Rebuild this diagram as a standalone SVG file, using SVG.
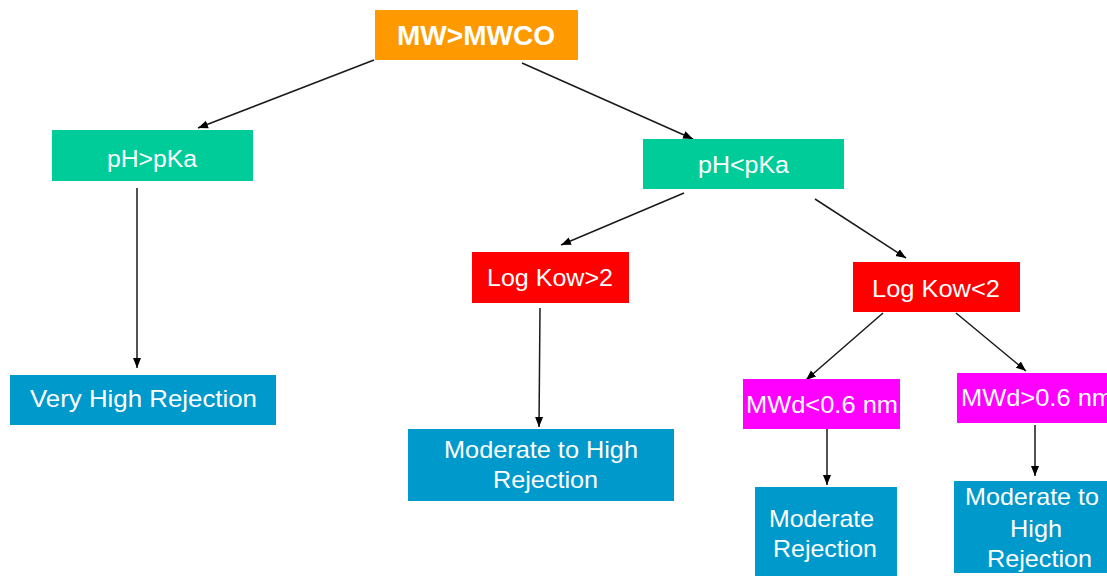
<svg xmlns="http://www.w3.org/2000/svg" width="1107" height="576" viewBox="0 0 1107 576">
<style>
text{font-family:"Liberation Sans",Arial,sans-serif;font-size:24px;fill:#fff;lengthAdjust:spacingAndGlyphs}
.orange{fill:#FF9900}.green{fill:#00CC99}.red{fill:#FF0000}.mag{fill:#FF00FF}.blue{fill:#0099CC}
.c line{stroke:#1a1a1a;stroke-width:1.5;marker-end:url(#ah)}
</style>
<defs>
<marker id="ah" viewBox="0 0 10 10" refX="10" refY="5" markerWidth="10" markerHeight="10" markerUnits="userSpaceOnUse" orient="auto">
<path d="M0,1 L10,5 L0,9 Z" fill="#000"/>
</marker>
</defs>
<rect width="1107" height="576" fill="#fff"/>
<g class="c" id="connectors">
<line x1="374" y1="60" x2="198" y2="128"/>
<line x1="522" y1="63" x2="693" y2="139"/>
<line x1="137" y1="188" x2="137" y2="368"/>
<line x1="684" y1="193" x2="561" y2="245"/>
<line x1="815" y1="199" x2="906" y2="258"/>
<line x1="540" y1="308" x2="539" y2="427"/>
<line x1="883" y1="313" x2="806" y2="380"/>
<line x1="956" y1="313" x2="1026" y2="371"/>
<line x1="827" y1="429" x2="827" y2="485"/>
<line x1="1035" y1="425" x2="1035" y2="476"/>
</g>
<g id="n-mwco"><rect class="orange" x="375" y="10" width="203" height="50"/><text x="397" y="45" style="font-weight:bold;font-size:28px" textLength="158" lengthAdjust="spacingAndGlyphs">MW&gt;MWCO</text></g>
<g id="n-phgt"><rect class="green" x="52" y="130" width="201" height="51"/><text x="107" y="167" textLength="90" lengthAdjust="spacingAndGlyphs">pH&gt;pKa</text></g>
<g id="n-phlt"><rect class="green" x="643" y="139" width="201" height="50"/><text x="698" y="173" textLength="91" lengthAdjust="spacingAndGlyphs">pH&lt;pKa</text></g>
<g id="n-vhr"><rect class="blue" x="10" y="375" width="266" height="50"/><text x="30" y="407" textLength="227" lengthAdjust="spacingAndGlyphs">Very High Rejection</text></g>
<g id="n-kowgt"><rect class="red" x="472" y="252" width="157" height="51"/><text x="487" y="286" textLength="126" lengthAdjust="spacingAndGlyphs">Log Kow&gt;2</text></g>
<g id="n-kowlt"><rect class="red" x="853" y="262" width="167" height="50"/><text x="872" y="297" textLength="128" lengthAdjust="spacingAndGlyphs">Log Kow&lt;2</text></g>
<g id="n-mthr1"><rect class="blue" x="408" y="429" width="266" height="72"/><text x="444" y="458" textLength="194" lengthAdjust="spacingAndGlyphs">Moderate to High</text><text x="493" y="488" textLength="105" lengthAdjust="spacingAndGlyphs">Rejection</text></g>
<g id="n-mwdlt"><rect class="mag" x="743" y="379" width="157" height="50"/><text x="746" y="413" textLength="152" lengthAdjust="spacingAndGlyphs">MWd&lt;0.6 nm</text></g>
<g id="n-mwdgt"><rect class="mag" x="957" y="373" width="150" height="50"/><text x="961" y="406" textLength="152" lengthAdjust="spacingAndGlyphs">MWd&gt;0.6 nm</text></g>
<g id="n-mr"><rect class="blue" x="755" y="487" width="142" height="89"/><text x="769" y="527" textLength="105" lengthAdjust="spacingAndGlyphs">Moderate</text><text x="773" y="557" textLength="104" lengthAdjust="spacingAndGlyphs">Rejection</text></g>
<g id="n-mthr2"><rect class="blue" x="954" y="481" width="153" height="92"/><text x="965" y="505" textLength="134" lengthAdjust="spacingAndGlyphs">Moderate to</text><text x="1010" y="537" textLength="52" lengthAdjust="spacingAndGlyphs">High</text><text x="987" y="567" textLength="105" lengthAdjust="spacingAndGlyphs">Rejection</text></g>
</svg>
